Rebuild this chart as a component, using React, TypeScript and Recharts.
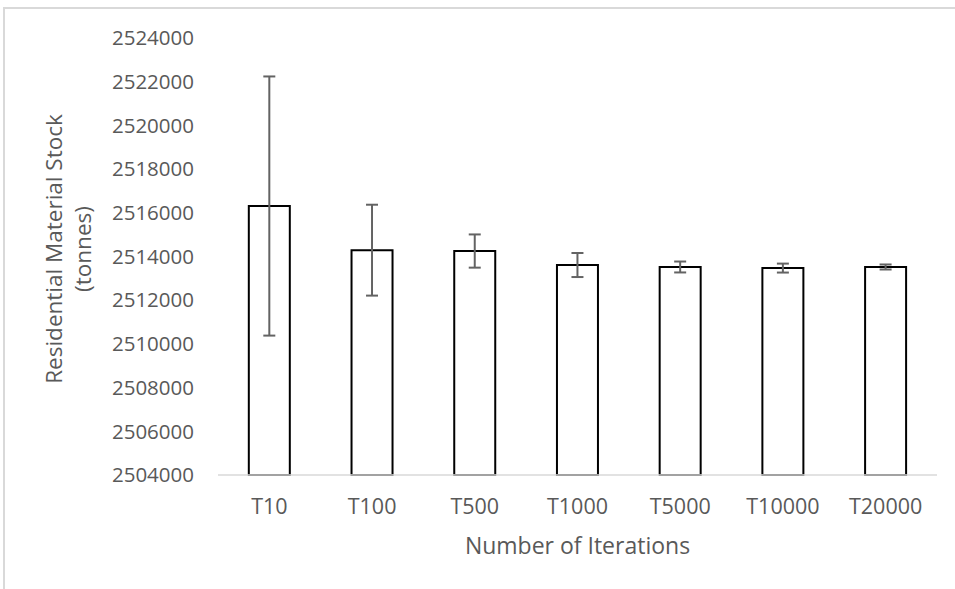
import React from "react";
import { Bar, BarChart, ErrorBar, Label, XAxis, YAxis } from "recharts";

const categories = ["T10", "T100", "T500", "T1000", "T5000", "T10000", "T20000"];
const stock = [2516310, 2514290, 2514250, 2513610, 2513520, 2513470, 2513520];
const errors = [5930, 2080, 760, 550, 250, 205, 115];
const yTicks = [
  2504000, 2506000, 2508000, 2510000, 2512000, 2514000, 2516000, 2518000, 2520000, 2522000, 2524000,
];

const data = categories.map((name, i) => ({ name, stock: stock[i], err: errors[i] }));

const FONT = "'Open Sans', 'Noto Sans', sans-serif";
const TEXT = "#595959";

const renderYTitle = () => (
  <text
    transform="rotate(-90, 68, 249)"
    x={68}
    y={249}
    fill={TEXT}
    fontSize={22.5}
    fontFamily={FONT}
    textAnchor="middle"
  >
    <tspan x={68} dy={-14.5} dominantBaseline="central">
      Residential Material Stock
    </tspan>
    <tspan x={68} dy={29} dominantBaseline="central">
      (tonnes)
    </tspan>
  </text>
);

export default function App() {
  return (
    <div style={{ position: "fixed", left: 0, top: 0, width: 955, height: 589, background: "#fff", overflow: "hidden" }}>
      <div
        style={{
          position: "absolute",
          left: 3,
          top: 7,
          width: 980,
          height: 620,
          border: "2px solid #d9d9d9",
          boxSizing: "border-box",
        }}
      />
      <BarChart
        width={955}
        height={589}
        data={data}
        margin={{ top: 38, right: 18, left: 0, bottom: 0 }}
        barCategoryGap="30%"
        style={{ position: "absolute", left: 0, top: 0 }}
      >
        <XAxis
          dataKey="name"
          height={114}
          axisLine={{ stroke: "#d9d9d9", strokeWidth: 1.5 }}
          tickLine={false}
          tickSize={0}
          tickMargin={24}
          tick={{ fill: TEXT, fontSize: 21.5, fontFamily: FONT }}
        >
          <Label
            value="Number of Iterations"
            position="insideBottom"
            offset={35}
            fill={TEXT}
            fontSize={23}
            fontFamily={FONT}
          />
        </XAxis>
        <YAxis
          width={218}
          domain={[2504000, 2524000]}
          ticks={yTicks}
          interval={0}
          axisLine={false}
          tickLine={false}
          tickSize={0}
          tickMargin={24}
          tick={{ fill: TEXT, fontSize: 20.5, fontFamily: FONT }}
        >
          <Label content={renderYTitle} />
        </YAxis>
        <Bar dataKey="stock" fill="#ffffff" stroke="#000000" strokeWidth={2} isAnimationActive={false}>
          <ErrorBar dataKey="err" width={6} stroke="#636363" strokeWidth={2} direction="y" />
        </Bar>
      </BarChart>
    </div>
  );
}
